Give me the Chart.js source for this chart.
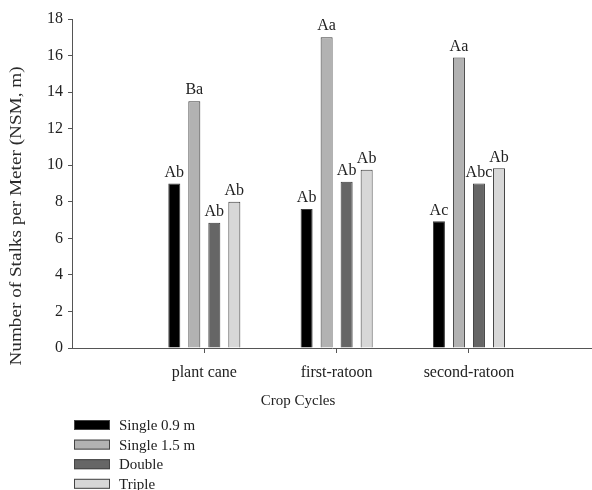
<!DOCTYPE html>
<html>
<head>
<meta charset="utf-8">
<script src="https://cdn.jsdelivr.net/npm/chart.js@4"></script>
<style>
  html, body { margin: 0; padding: 0; background: #fff; }
  #wrap { width: 592px; height: 490px; }
</style>
</head>
<body>
<div id="wrap"><canvas id="chart" width="592" height="490"></canvas></div>
<script>
const cycles = ["plant cane", "first-ratoon", "second-ratoon"];
const single09 = [9.0, 7.6, 6.93];
const single15 = [13.5, 17.0, 15.9];
const double = [6.85, 9.1, 9.0];
const triple = [8.0, 9.75, 9.83];
const letters09 = ["Ab", "Ab", "Ac"];
const letters15 = ["Ba", "Aa", "Aa"];
const lettersDouble = ["Ab", "Ab", "Abc"];
const lettersTriple = ["Ab", "Ab", "Ab"];
const yTicks = [0, 2, 4, 6, 8, 10, 12, 14, 16, 18];

const serif = "'Liberation Serif', 'DejaVu Serif', serif";

function points(values) {
    return values.map((v, i) => ({ x: i + 1, y: v }));
}

const series = [
    { label: "Single 0.9 m", values: single09, letters: letters09, color: "#000000" },
    { label: "Single 1.5 m", values: single15, letters: letters15, color: "#b2b2b2" },
    { label: "Double", values: double, letters: lettersDouble, color: "#666666" },
    { label: "Triple", values: triple, letters: lettersTriple, color: "#d7d7d7" }
];

// letters above bars, axis titles and the stacked legend
const extras = {
    id: "extras",
    afterDatasetsDraw(chart) {
        const ctx = chart.ctx;
        ctx.save();
        ctx.fillStyle = "#222";
        ctx.font = "16px " + serif;
        ctx.textAlign = "center";
        ctx.textBaseline = "bottom";
        chart.data.datasets.forEach((ds, di) => {
            chart.getDatasetMeta(di).data.forEach((bar, i) => {
                ctx.fillText(series[di].letters[i], bar.x, bar.y - 3);
            });
        });
        ctx.restore();
    },
    afterDraw(chart) {
        const ctx = chart.ctx;
        ctx.save();
        ctx.fillStyle = "#2a2a2a";
        // y title
        ctx.font = "16px " + serif;
        ctx.textAlign = "center";
        ctx.textBaseline = "middle";
        ctx.translate(17, 216);
        ctx.rotate(-Math.PI / 2);
        ctx.scale(1.2, 1);
        ctx.fillText("Number of Stalks per Meter (NSM, m)", 0, 0);
        ctx.restore();

        ctx.save();
        ctx.fillStyle = "#222";
        ctx.font = "15px " + serif;
        ctx.textAlign = "center";
        ctx.textBaseline = "middle";
        ctx.fillText("Crop Cycles", 298, 401);
        // legend
        ctx.textAlign = "left";
        series.forEach((s, i) => {
            const y = 425 + i * 19.6;
            ctx.fillStyle = s.color;
            ctx.fillRect(74, y - 5, 36, 10);
            ctx.strokeStyle = "#444";
            ctx.lineWidth = 1;
            ctx.strokeRect(74.5, y - 4.5, 35, 9);
            ctx.fillStyle = "#222";
            ctx.fillText(s.label, 119, y + 1);
        });
        ctx.restore();
    }
};

new Chart(document.getElementById("chart"), {
    type: "bar",
    data: {
        datasets: series.map(s => ({
            label: s.label,
            data: points(s.values),
            backgroundColor: s.color,
            borderColor: "#3a3a3a",
            borderWidth: 1,
            categoryPercentage: 0.605,
            barPercentage: 0.6
        }))
    },
    options: {
        responsive: false,
        animation: false,
        layout: { padding: { top: 19, right: 0, left: 0, bottom: 0 } },
        plugins: {
            legend: { display: false },
            tooltip: { enabled: false }
        },
        scales: {
            x: {
                type: "linear",
                min: 0,
                max: 3.93,
                offset: false,
                afterBuildTicks: scale => { scale.ticks = [1, 2, 3].map(v => ({ value: v })); },
                afterFit: scale => { scale.height = 142; },
                grid: { drawOnChartArea: false, offset: false, tickLength: 5, color: "#555" },
                border: { color: "#555" },
                ticks: {
                    color: "#222",
                    font: { family: serif, size: 16 },
                    padding: 10,
                    maxRotation: 0,
                    callback: v => cycles[v - 1]
                }
            },
            y: {
                min: 0,
                max: 18,
                afterBuildTicks: scale => { scale.ticks = yTicks.map(v => ({ value: v })); },
                afterFit: scale => { scale.width = 72; },
                grid: { drawOnChartArea: false, tickLength: 4, color: "#555" },
                border: { color: "#555" },
                ticks: {
                    color: "#222",
                    font: { family: serif, size: 16 },
                    padding: 5
                }
            }
        }
    },
    plugins: [extras]
});
</script>
</body>
</html>
